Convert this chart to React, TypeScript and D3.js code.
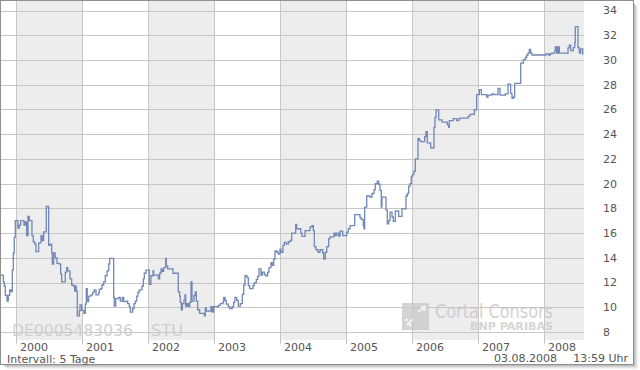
import React from "react";
import * as d3 from "d3";

// decimal years (5-day interval closes)
const dates: number[] = [
  1999.773, 1999.808, 1999.823, 1999.838, 1999.864, 1999.883, 1999.905, 1999.924, 1999.944, 1999.959,
  1999.974, 1999.989, 2000.030, 2000.050, 2000.071, 2000.121, 2000.141, 2000.162, 2000.182, 2000.202,
  2000.242, 2000.262, 2000.283, 2000.303, 2000.344, 2000.379, 2000.398, 2000.420, 2000.459, 2000.495,
  2000.515, 2000.541, 2000.550, 2000.571, 2000.595, 2000.621, 2000.656, 2000.677, 2000.692, 2000.747,
  2000.768, 2000.783, 2000.818, 2000.844, 2000.874, 2000.889, 2000.898, 2000.914, 2000.929, 2000.959,
  2000.970, 2000.995, 2001.030, 2001.050, 2001.065, 2001.080, 2001.102, 2001.136, 2001.162, 2001.186,
  2001.212, 2001.253, 2001.262, 2001.288, 2001.303, 2001.329, 2001.353, 2001.379, 2001.405, 2001.420,
  2001.480, 2001.489, 2001.511, 2001.556, 2001.580, 2001.611, 2001.632, 2001.667, 2001.692, 2001.717,
  2001.732, 2001.768, 2001.788, 2001.808, 2001.829, 2001.848, 2001.868, 2001.909, 2001.929, 2001.944,
  2001.970, 2002.020, 2002.045, 2002.076, 2002.086, 2002.156, 2002.177, 2002.197, 2002.217, 2002.238,
  2002.268, 2002.277, 2002.298, 2002.379, 2002.459, 2002.480, 2002.489, 2002.505, 2002.520, 2002.545,
  2002.561, 2002.571, 2002.591, 2002.611, 2002.632, 2002.652, 2002.667, 2002.697, 2002.717, 2002.732,
  2002.753, 2002.783, 2002.853, 2002.868, 2002.883, 2002.955, 2002.974, 2002.995, 2003.065, 2003.095,
  2003.136, 2003.147, 2003.167, 2003.186, 2003.217, 2003.238, 2003.277, 2003.298, 2003.318, 2003.344,
  2003.368, 2003.398, 2003.429, 2003.450, 2003.470, 2003.500, 2003.520, 2003.541, 2003.591, 2003.611,
  2003.641, 2003.662, 2003.682, 2003.712, 2003.732, 2003.762, 2003.783, 2003.814, 2003.833, 2003.864,
  2003.883, 2003.905, 2003.924, 2003.955, 2003.974, 2004.000, 2004.015, 2004.045, 2004.065, 2004.095,
  2004.126, 2004.156, 2004.177, 2004.238, 2004.253, 2004.314, 2004.333, 2004.379, 2004.455, 2004.485,
  2004.505, 2004.520, 2004.545, 2004.576, 2004.606, 2004.647, 2004.662, 2004.686, 2004.708, 2004.738,
  2004.758, 2004.818, 2004.838, 2004.859, 2004.889, 2004.909, 2004.950, 2005.011, 2005.035, 2005.061,
  2005.132, 2005.212, 2005.232, 2005.262, 2005.273, 2005.283, 2005.314, 2005.364, 2005.394, 2005.424,
  2005.444, 2005.474, 2005.495, 2005.515, 2005.535, 2005.545, 2005.606, 2005.626, 2005.647, 2005.667,
  2005.697, 2005.717, 2005.747, 2005.798, 2005.848, 2005.909, 2005.929, 2005.950, 2005.970, 2005.989,
  2006.011, 2006.030, 2006.050, 2006.091, 2006.111, 2006.132, 2006.192, 2006.212, 2006.232, 2006.283,
  2006.333, 2006.348, 2006.364, 2006.405, 2006.455, 2006.535, 2006.556, 2006.565, 2006.626, 2006.677,
  2006.708, 2006.738, 2006.848, 2006.879, 2006.944, 2006.980, 2007.020, 2007.050, 2007.132, 2007.152,
  2007.212, 2007.242, 2007.303, 2007.333, 2007.414, 2007.455, 2007.495, 2007.515, 2007.535, 2007.556,
  2007.647, 2007.686, 2007.717, 2007.738, 2007.758, 2007.777, 2007.798, 2007.818, 2008.030, 2008.071,
  2008.091, 2008.121, 2008.162, 2008.171, 2008.192, 2008.212, 2008.232, 2008.364, 2008.383, 2008.405,
  2008.444, 2008.465, 2008.474, 2008.515, 2008.535, 2008.556, 2008.586, 2008.600,
];

const prices: number[] = [
  12.6, 12.05, 11.7, 10.97, 10.5, 10.97, 11.4, 11.27, 13.0, 14.4,
  15.65, 17.0, 16.4, 16.65, 17.0, 16.65, 16.9, 15.8, 17.35, 17.0,
  15.8, 15.3, 15.1, 14.5, 15.2, 15.8, 15.4, 16.1, 18.15, 15.0,
  15.1, 14.4, 13.5, 14.4, 14.0, 13.55, 13.5, 12.7, 12.05, 12.85,
  13.2, 12.95, 12.3, 11.8, 11.7, 11.3, 11.7, 11.3, 9.3, 9.7,
  10.2, 9.75, 9.5, 10.25, 11.5, 10.45, 10.9, 11.0, 11.2, 11.4,
  11.0, 11.2, 11.45, 11.5, 11.8, 12.05, 12.55, 12.95, 13.5, 13.95,
  10.8, 10.1, 10.7, 10.8, 10.5, 10.8, 10.45, 10.5, 10.3, 10.05,
  9.6, 9.9, 10.3, 10.5, 10.9, 11.2, 11.4, 11.7, 12.3, 12.75,
  13.0, 11.85, 12.55, 12.95, 12.6, 12.3, 12.75, 13.1, 12.9, 13.2,
  13.95, 13.35, 13.1, 12.75, 11.25, 10.9, 10.4, 9.8, 10.3, 10.6,
  11.0, 10.1, 10.3, 10.05, 10.4, 12.05, 10.5, 10.95, 11.25, 10.5,
  9.8, 9.5, 9.3, 9.95, 9.7, 10.05, 9.6, 10.05, 10.15, 10.3,
  10.4, 10.8, 10.55, 10.25, 10.05, 9.9, 10.05, 10.4, 10.8, 10.55,
  10.1, 10.3, 11.05, 11.8, 12.55, 12.4, 11.75, 11.5, 11.75, 12.0,
  12.25, 12.5, 13.1, 12.6, 12.85, 12.65, 12.55, 12.85, 13.2, 13.6,
  13.4, 13.9, 14.55, 14.45, 14.3, 14.7, 14.45, 15.0, 15.25, 15.1,
  15.3, 15.4, 16.0, 16.7, 16.35, 16.0, 15.73, 16.2, 16.5, 16.6,
  16.2, 14.9, 14.65, 14.45, 14.65, 14.38, 13.9, 14.45, 14.9, 15.55,
  15.7, 16.0, 15.8, 16.0, 15.75, 16.16, 15.8, 16.08, 16.35, 16.6,
  17.5, 17.25, 17.1, 16.6, 16.35, 18.1, 19.0, 18.9, 19.2, 19.5,
  20.0, 20.2, 19.95, 19.45, 18.1, 18.9, 17.85, 16.75, 17.0, 17.7,
  17.3, 16.95, 17.8, 17.35, 17.95, 19.0, 19.2, 19.8, 20.0, 20.6,
  20.75, 21.0, 22.0, 23.65, 23.5, 23.4, 23.8, 24.2, 23.3, 22.9,
  24.55, 25.35, 25.97, 25.15, 24.97, 24.75, 24.55, 25.1, 25.25, 25.1,
  25.25, 25.3, 25.43, 25.6, 25.97, 27.2, 27.6, 27.2, 27.0, 27.15,
  27.25, 27.2, 27.7, 27.15, 27.25, 28.05, 27.3, 26.9, 27.0, 28.1,
  29.75, 30.0, 30.2, 30.4, 30.55, 30.85, 30.55, 30.4, 30.5, 30.4,
  30.5, 30.55, 30.7, 31.05, 30.55, 31.05, 30.55, 30.97, 31.2, 30.75,
  31.0, 31.4, 32.7, 31.0, 30.55, 30.9, 30.5, 30.5,
];

const yearTicks: number[] = [2000, 2001, 2002, 2003, 2004, 2005, 2006, 2007, 2008];
const shadedYears: number[] = [2000, 2002, 2004, 2006, 2008];
const priceTicks: number[] = [8, 10, 12, 14, 16, 18, 20, 22, 24, 26, 28, 30, 32, 34];

const isin = "DE0005483036";
const exchange = "STU";
const intervalLabel = "Intervall: 5 Tage";
const dateLabel = "03.08.2008";
const timeLabel = "13:59 Uhr";

const FONT = "'DejaVu Sans', Verdana, sans-serif";

export default function App() {
  const plotLeft = 1;
  const plotRight = 584;
  const plotTop = 1;
  const plotBottom = 340;

  const x = d3.scaleLinear().domain([1999.773, 2008.606]).range([plotLeft, plotRight]);
  const y = d3.scaleLinear().domain([8, 34]).range([332, 10.5]);

  const data = dates.map((d, i) => [d, prices[i]] as [number, number]);
  const line = d3
    .line<[number, number]>()
    .x((d) => x(d[0]))
    .y((d) => y(d[1]))
    .curve(d3.curveStepAfter);

  return (
    <svg
      width={640}
      height={370}
      style={{ position: "absolute", left: 0, top: 0, background: "#fff" }}
      fontFamily={FONT}
    >
      <defs>
        <clipPath id="plotClip">
          <rect x={plotLeft} y={plotTop} width={plotRight - plotLeft} height={plotBottom - plotTop} />
        </clipPath>
      </defs>
      {/* shadow */}
      <rect x={634} y={4} width={1} height={362} fill="#bdbdbd" />
      <rect x={635} y={5} width={1} height={362} fill="#d2d2d2" />
      <rect x={636} y={6} width={1} height={362} fill="#e3e3e3" />
      <rect x={637} y={7} width={1} height={361} fill="#f0f0f0" />
      <rect x={4} y={365} width={631} height={1} fill="#bdbdbd" />
      <rect x={5} y={366} width={631} height={1} fill="#d2d2d2" />
      <rect x={6} y={367} width={631} height={1} fill="#e3e3e3" />
      <rect x={7} y={368} width={630} height={1} fill="#f0f0f0" />
      {/* frame */}
      <rect x={0.5} y={0.5} width={633} height={364} fill="#fff" stroke="#8f8f8f" strokeWidth={1} />

      {/* shaded years */}
      {shadedYears.map((yr) => {
        const x0 = Math.max(plotLeft, x(yr));
        const x1 = Math.min(plotRight, x(yr + 1));
        return (
          <rect key={yr} x={x0} y={plotTop} width={x1 - x0} height={plotBottom - plotTop} fill="#ededed" />
        );
      })}

      {/* horizontal gridlines */}
      {priceTicks.map((v) => (
        <line
          key={v}
          x1={plotLeft}
          x2={plotRight}
          y1={Math.round(y(v)) + 0.5}
          y2={Math.round(y(v)) + 0.5}
          stroke="#c6c6c6"
          strokeWidth={1}
        />
      ))}
      {/* vertical gridlines */}
      {yearTicks.map((yr) => (
        <line
          key={yr}
          x1={Math.round(x(yr)) + 0.5}
          x2={Math.round(x(yr)) + 0.5}
          y1={plotTop}
          y2={344}
          stroke="#c6c6c6"
          strokeWidth={1}
        />
      ))}

      {/* watermark */}
      <text x={12} y={336} fontSize={16} fill="#cfcfcf" textLength={121} lengthAdjust="spacingAndGlyphs">
        {isin}
      </text>
      <text x={151} y={336} fontSize={16} fill="#cfcfcf" textLength={32} lengthAdjust="spacingAndGlyphs">
        {exchange}
      </text>
      <g opacity={0.75}>
        <rect x={402} y={303} width={27} height={27} fill="#c8c8c8" />
        <path d="M407 325 l6 -6 M405 320 l3 0 M410 327 l0 -3" stroke="#fff" strokeWidth={1.5} fill="none" />
        <path d="M418 312 l7 -5 l-1 4 M425 307 l-4 0" stroke="#fff" strokeWidth={1.5} fill="none" />
        <text x={435} y={318} fontSize={19} fill="#c4c4c4" textLength={118} lengthAdjust="spacingAndGlyphs">
          Cortal Consors
        </text>
        <text x={470} y={330} fontSize={10} fontWeight="bold" fill="#c8c8c8" textLength={83} lengthAdjust="spacingAndGlyphs">
          BNP PARIBAS
        </text>
      </g>

      {/* price line */}
      <path d={line(data) ?? ""} fill="none" stroke="#7187b6" strokeWidth={1.3} clipPath="url(#plotClip)" />

      {/* right axis labels */}
      {priceTicks.map((v) => (
        <text key={v} x={603} y={y(v)} dy="0.36em" fontSize={11} fill="#555">
          {v}
        </text>
      ))}

      {/* year labels */}
      {yearTicks.map((yr) => (
        <text key={yr} x={Math.round(x(yr)) + 4} y={351} fontSize={11} fill="#555">
          {yr}
        </text>
      ))}

      <text x={7} y={362.5} fontSize={11} fill="#555">
        {intervalLabel}
      </text>
      <text x={557} y={362} fontSize={11} fill="#555" textAnchor="end">
        {dateLabel}
      </text>
      <text x={628} y={362} fontSize={11} fill="#555" textAnchor="end">
        {timeLabel}
      </text>
    </svg>
  );
}
